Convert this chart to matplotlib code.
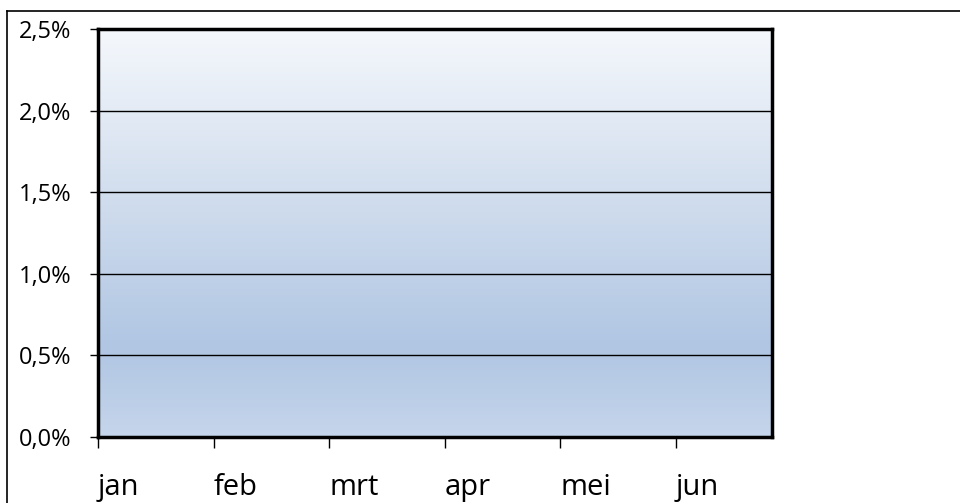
import numpy as np
import matplotlib
matplotlib.use('Agg')
import matplotlib.pyplot as plt
from matplotlib.colors import LinearSegmentedColormap
from matplotlib.lines import Line2D

# Categories and axis values
months = ['jan', 'feb', 'mrt', 'apr', 'mei', 'jun']
y_ticks = [0.0, 0.5, 1.0, 1.5, 2.0, 2.5]
y_labels = ['0,0%', '0,5%', '1,0%', '1,5%', '2,0%', '2,5%']

plt.rcParams['font.family'] = ['Open Sans', 'DejaVu Sans']

fig = plt.figure(figsize=(9.6, 5.03), dpi=100)
ax = fig.add_axes([98 / 960, 1 - 437 / 503, 674 / 960, 408 / 503])

x = np.arange(len(months))
ax.set_xlim(0, 5.83)
ax.set_ylim(0, 2.5)

# gradient background (bottom -> top)
cmap = LinearSegmentedColormap.from_list('bg', [
    (0.0, (197 / 255, 213 / 255, 235 / 255)),
    (0.22, (176 / 255, 198 / 255, 227 / 255)),
    (0.6, (210 / 255, 222 / 255, 238 / 255)),
    (1.0, (245 / 255, 248 / 255, 252 / 255)),
])
grad = np.linspace(0, 1, 256).reshape(-1, 1)
ax.imshow(grad, cmap=cmap, origin='lower', aspect='auto',
          extent=[0, 5.83, 0, 2.5], zorder=0)

# grid lines
for v in y_ticks[1:-1]:
    ax.axhline(v, color='black', lw=1.0, zorder=1)

ax.set_yticks(y_ticks)
ax.set_yticklabels(y_labels, fontsize=17)
ax.set_xticks(x)
ax.set_xticklabels(months, fontsize=21, ha='left')

ax.tick_params(axis='y', direction='out', length=6, width=1, pad=13)
ax.tick_params(axis='x', direction='out', length=8, width=1, pad=18)

for s in ax.spines.values():
    s.set_linewidth(2.5)
    s.set_color('black')
    s.set_zorder(3)

# outer chart frame (cropped)
fig.add_artist(Line2D([7 / 960, 7 / 960], [0, 1 - 11 / 503], color='black', lw=1.2))
fig.add_artist(Line2D([7 / 960, 1], [1 - 11 / 503, 1 - 11 / 503], color='black', lw=1.2))

fig.savefig('out.png', dpi=100)
